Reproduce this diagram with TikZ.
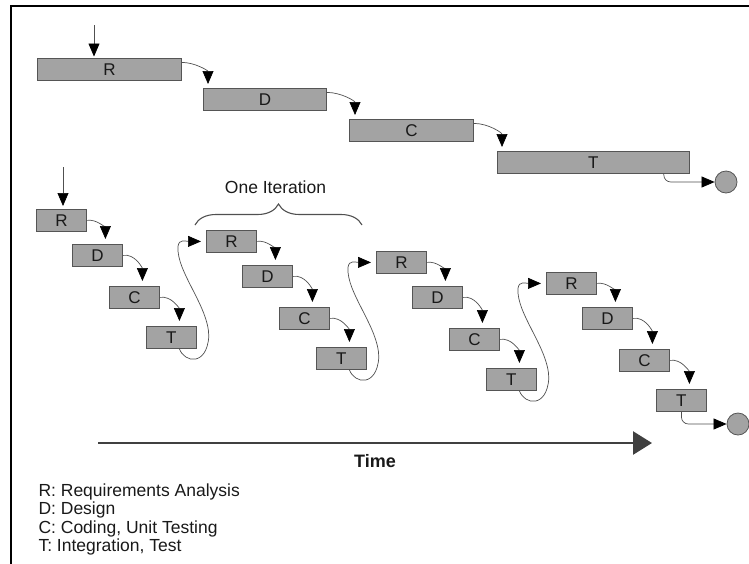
\documentclass[tikz,border=0pt]{standalone}
\usepackage{fontspec}
\setmainfont{Liberation Sans}
\usetikzlibrary{arrows.meta,decorations.pathreplacing}

\definecolor{barfill}{RGB}{163,163,163}
\definecolor{barline}{RGB}{85,85,85}
\definecolor{wire}{RGB}{80,80,80}
\definecolor{timeline}{RGB}{64,64,64}
\definecolor{ink}{RGB}{25,25,25}

\tikzset{
  phase/.style={draw=barline, line width=0.8pt, fill=barfill, anchor=north west,
    inner sep=0pt, minimum height=22pt, text=ink, font=\fontsize{17}{20}\selectfont},
  smallphase/.style={phase, minimum width=50pt},
  flow/.style={draw=wire, line width=0.7pt,
    -{Triangle[width=11pt,length=13pt,color=black,fill=black]}},
  endpoint/.style={circle, draw=barline, line width=0.8pt, fill=barfill,
    minimum size=22pt, inner sep=0pt},
  legend/.style={anchor=base west, text=ink, font=\fontsize{17.5}{20}\selectfont},
}

\begin{document}
\begin{tikzpicture}[x=1pt,y=1pt]
  \useasboundingbox (0,0) rectangle (749,-563);

  % frame (top and left edges only)
  \draw[line width=2.5pt, line cap=rect] (749,-6) -- (11,-6) -- (11,-563);

  % ---- waterfall: one long pass ----
  \node[phase, minimum width=144pt] (wr) at (37,-58)  {R};
  \node[phase, minimum width=123pt] (wd) at (203,-88) {D};
  \node[phase, minimum width=124pt] (wc) at (349,-119) {C};
  \node[phase, minimum width=192pt] (wt) at (497,-151) {T};
  \node[endpoint] (wend) at (726,-182) {};

  \coordinate (wstart) at (94,-25);
  \draw[flow, shorten >=1.5pt] (wstart) -- (wstart |- wr.north);
  \draw[flow] ([yshift=7pt]wr.east) to[out=0,in=90] ([xshift=5pt,yshift=4pt]wd.north west);
  \draw[flow] ([yshift=7pt]wd.east) to[out=0,in=90] ([xshift=6pt,yshift=4pt]wc.north west);
  \draw[flow] ([yshift=7pt]wc.east) to[out=0,in=90] ([xshift=5pt,yshift=4pt]wt.north west);
  \draw[flow, rounded corners=7pt] ([xshift=-26pt]wt.south east) |- (wend.west);

  % ---- iterative: four short passes ----
  \foreach \k in {1,2,3,4} {
    \pgfmathsetmacro\rx{36+170*(\k-1)}
    \pgfmathsetmacro\ry{209+21*(\k-1)}
    \node[smallphase] (ir\k) at (\rx,-\ry)         {R};
    \node[smallphase] (id\k) at (\rx+36,-\ry-35)  {D};
    \node[smallphase] (ic\k) at (\rx+73,-\ry-77)  {C};
    \node[smallphase] (it\k) at (\rx+110,-\ry-117) {T};
    \draw[flow] (ir\k.east) to[out=10,in=90] ([xshift=8pt,yshift=5pt]id\k.north);
    \draw[flow] (id\k.east) to[out=10,in=90] ([xshift=8pt,yshift=5pt]ic\k.north);
    \draw[flow] (ic\k.east) to[out=10,in=90] ([xshift=8pt,yshift=5pt]it\k.north);
  }

  % loops from each test phase back to the next requirements phase
  \foreach \k/\n in {1/2,2/3,3/4} {
    \draw[flow] ([xshift=8pt]it\k.south)
      .. controls +(5,-14) and +(-2,-30) .. ([xshift=12pt,yshift=1pt]it\k.east)
      .. controls +(0,30) and +(-2,-25) .. ([xshift=-28pt,yshift=-5pt]ir\n.west)
      .. controls +(1,8) and +(-15,0) .. ([xshift=-5pt]ir\n.west);
  }

  \coordinate (istart) at (63,-167);
  \draw[flow, shorten >=3pt] (istart) -- (istart |- ir1.north);

  \node[endpoint] (iend) at (738,-424) {};
  \draw[flow, rounded corners=7pt] (it4.south) |- (iend.west);

  % brace over one iteration
  \coordinate (bl) at (195,-225);
  \coordinate (br) at (362,-225);
  \draw[draw=wire, line width=1.1pt, decorate, decoration={brace, amplitude=21pt}] (bl) -- (br);
  \node[anchor=base, text=ink, font=\fontsize{17.5}{20}\selectfont] (iterlbl) at (275.5,-193) {One Iteration};

  % time axis
  \coordinate (tstart) at (98,-443);
  \coordinate (tend) at (652,-443);
  \draw[draw=timeline, line width=2.6pt, -{Triangle[width=23pt,length=19pt,color=timeline,fill=timeline]}] (tstart) -- (tend);
  \node[anchor=base, text=ink, font=\bfseries\fontsize{18}{20}\selectfont] (timelbl) at (375,-467) {Time};

  % key
  \node[legend] (leg1) at (35,-496)   {R: Requirements Analysis};
  \node[legend] (leg2) at (35,-514.5) {D: Design};
  \node[legend] (leg3) at (35,-533)   {C: Coding, Unit Testing};
  \node[legend] (leg4) at (35,-551.5) {T: Integration, Test};
\end{tikzpicture}
\end{document}
